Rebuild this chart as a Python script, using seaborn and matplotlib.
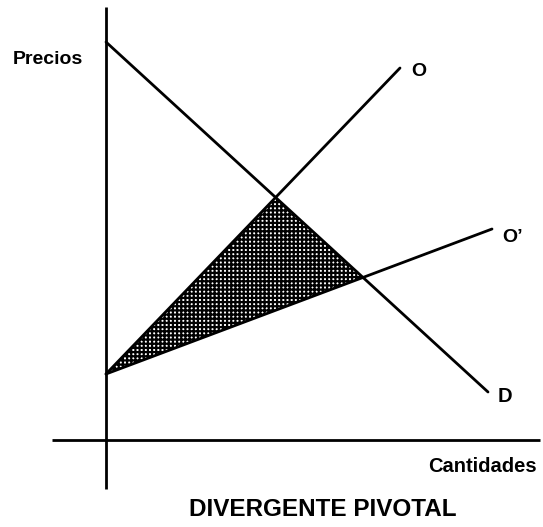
import matplotlib
matplotlib.use("Agg")
import matplotlib.pyplot as plt
import numpy as np
import seaborn as sns

# Curve end points (quantity, price), origin where the two axes cross
demand_q = [0, 382]
demand_p = [398, 48]
supply_q = [0, 294]
supply_p = [66, 372]
supply2_q = [0, 386]
supply2_p = [66, 211]

curve_labels = ["O", "O\u2019", "D"]
y_label = "Precios"
x_label = "Cantidades"
title = "DIVERGENTE PIVOTAL"

INK = "black"
LW = 2.0

sns.set_theme(style="white")
plt.rcParams["font.family"] = ["Liberation Sans", "DejaVu Sans"]
plt.rcParams["hatch.linewidth"] = 1.6


def _line(q, p):
    """Slope and intercept of a straight line through two points."""
    slope = (p[1] - p[0]) / (q[1] - q[0])
    return slope, p[0] - slope * q[0]


def _cross(a, b):
    (m1, c1), (m2, c2) = a, b
    q = (c2 - c1) / (m1 - m2)
    return q, m1 * q + c1


fig = plt.figure(figsize=(5.43, 5.27), dpi=100)
ax = fig.add_axes([0, 0, 1, 1])
ax.set_xlim(-106, 437)
ax.set_ylim(-87, 440)
ax.axis("off")

# axes of the diagram
ax.plot([-54, 434], [0, 0], color=INK, lw=LW, solid_capstyle="butt")
ax.plot([0, 0], [-49, 433], color=INK, lw=LW, solid_capstyle="butt")

# shaded triangle between O, O' and D
d_line = _line(demand_q, demand_p)
o_line = _line(supply_q, supply_p)
o2_line = _line(supply2_q, supply2_p)
tri = [(supply_q[0], supply_p[0]), _cross(o_line, d_line), _cross(o2_line, d_line)]
ax.fill([t[0] for t in tri], [t[1] for t in tri],
        facecolor="white", edgecolor=INK, hatch="++++", linewidth=0, zorder=1)

for q, p in [(demand_q, demand_p), (supply_q, supply_p), (supply2_q, supply2_p)]:
    sns.lineplot(x=q, y=p, ax=ax, color=INK, lw=LW, sort=False, zorder=2)

bold = dict(fontweight="bold", color=INK)
ax.text(supply_q[1] + 11, supply_p[1] - 3, curve_labels[0], fontsize=14, va="center", ha="left", **bold)
ax.text(supply2_q[1] + 10, supply2_p[1] - 8, curve_labels[1], fontsize=14, va="center", ha="left", **bold)
ax.text(demand_q[1] + 10, demand_p[1] - 4, curve_labels[2], fontsize=14.5, va="center", ha="left", **bold)

ax.text(-23, 381, y_label, fontsize=14, ha="right", va="center", **bold)
ax.text(431, -26, x_label, fontsize=14.5, ha="right", va="center", **bold)
ax.text(217, -70, title, fontsize=17.5, ha="center", va="center", **bold)

fig.savefig("out.png", dpi=100)
plt.close(fig)
